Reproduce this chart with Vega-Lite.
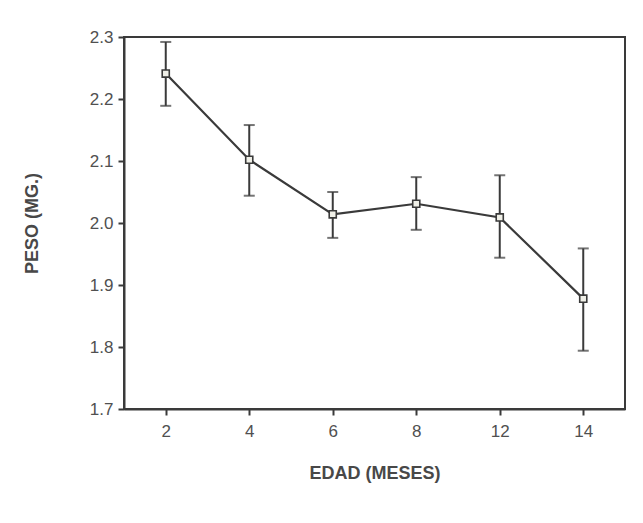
{
  "$schema": "https://vega.github.io/schema/vega-lite/v6.json",
  "width": 501,
  "height": 372,
  "autosize": {"type": "none"},
  "padding": {"left": 124, "top": 37, "right": 18, "bottom": 114},
  "background": "white",
  "config": {
    "view": {"stroke": "#3a3a3a", "strokeWidth": 2},
    "axis": {
      "labelFont": "Liberation Sans",
      "labelFontSize": 17,
      "labelColor": "#505050",
      "titleFont": "Liberation Sans",
      "titleFontSize": 18,
      "titleFontWeight": "bold",
      "titleColor": "#484848",
      "domainColor": "#3a3a3a",
      "domainWidth": 2,
      "tickColor": "#3a3a3a",
      "tickWidth": 2,
      "grid": false
    }
  },
  "data": {
    "values": [
      {"edad": "2", "peso": 2.241, "bajo": 2.189, "alto": 2.292},
      {"edad": "4", "peso": 2.102, "bajo": 2.044, "alto": 2.158},
      {"edad": "6", "peso": 2.014, "bajo": 1.976, "alto": 2.050},
      {"edad": "8", "peso": 2.031, "bajo": 1.989, "alto": 2.074},
      {"edad": "12", "peso": 2.009, "bajo": 1.944, "alto": 2.077},
      {"edad": "14", "peso": 1.878, "bajo": 1.794, "alto": 1.959}
    ]
  },
  "encoding": {
    "x": {
      "field": "edad",
      "type": "ordinal",
      "sort": null,
      "scale": {"type": "point", "padding": 0.5},
      "axis": {
        "title": "EDAD (MESES)",
        "labelAngle": 0,
        "tickSize": 6,
        "labelPadding": 8,
        "titlePadding": 25
      }
    }
  },
  "layer": [
    {
      "mark": {"type": "rule", "color": "#3a3a3a", "strokeWidth": 2},
      "encoding": {
        "y": {"field": "bajo", "type": "quantitative"},
        "y2": {"field": "alto"}
      }
    },
    {
      "mark": {"type": "tick", "color": "#3a3a3a", "size": 11, "thickness": 2},
      "encoding": {"y": {"field": "bajo", "type": "quantitative"}}
    },
    {
      "mark": {"type": "tick", "color": "#3a3a3a", "size": 11, "thickness": 2},
      "encoding": {"y": {"field": "alto", "type": "quantitative"}}
    },
    {
      "mark": {"type": "line", "color": "#3a3a3a", "strokeWidth": 2.2},
      "encoding": {
        "y": {
          "field": "peso",
          "type": "quantitative",
          "scale": {"domain": [1.7, 2.3], "nice": false, "zero": false},
          "axis": {
            "title": "PESO (MG.)",
            "values": [1.7, 1.75, 1.8, 1.85, 1.9, 1.95, 2.0, 2.05, 2.1, 2.15, 2.2, 2.25, 2.3],
            "labelExpr": "(round(datum.value*100) % 10 == 0) ? format(datum.value, '.1f') : ''",
            "tickSize": {"condition": {"test": "round(datum.value*100) % 10 == 0", "value": 6}, "value": 3},
            "labelPadding": 5,
            "titlePadding": 48
          }
        }
      }
    },
    {
      "mark": {"type": "square", "size": 50, "filled": true, "fill": "#f0f0e8", "stroke": "#3a3a3a", "strokeWidth": 1.6, "opacity": 1},
      "encoding": {"y": {"field": "peso", "type": "quantitative"}}
    }
  ]
}
